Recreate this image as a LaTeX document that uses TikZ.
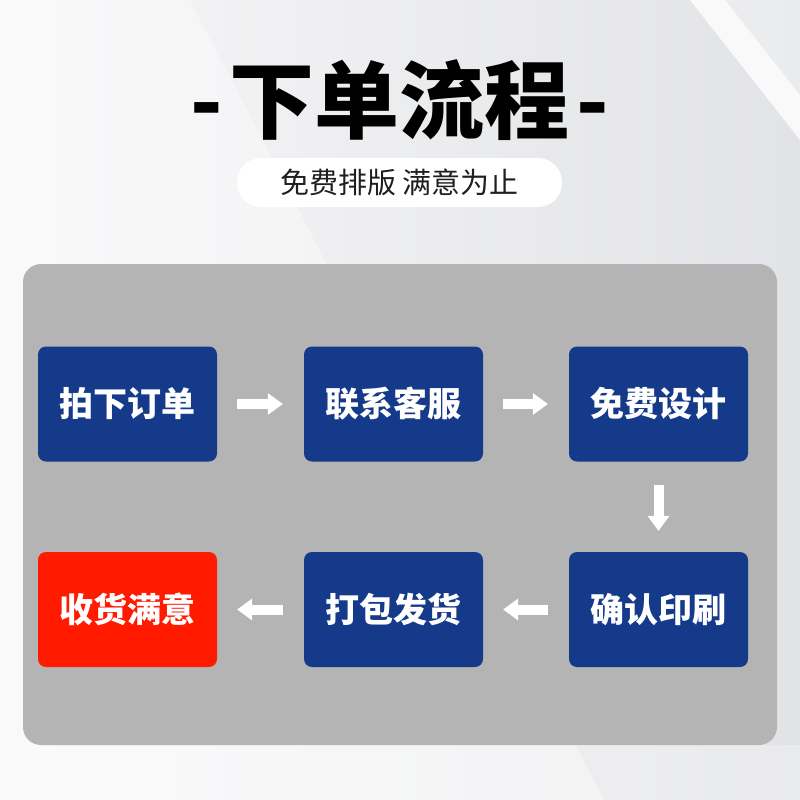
\documentclass[tikz,border=0pt]{standalone}
\usepackage{fontspec}
\newfontfamily\cjk{Noto Sans CJK SC}
\usetikzlibrary{arrows.meta}
\definecolor{boxblue}{RGB}{22,58,138}
\definecolor{boxred}{RGB}{255,26,0}
\definecolor{panelgray}{RGB}{180,180,180}
\definecolor{bgright}{RGB}{226,227,230}
\definecolor{bgleft}{RGB}{247,247,248}
\tikzset{
  stepbox/.style={fill=boxblue, rounded corners=8pt, minimum width=179pt, minimum height=115pt,
    inner sep=0pt, text=white, font=\cjk\bfseries\fontsize{34}{40}\selectfont},
  donebox/.style={stepbox, fill=boxred},
  flowarrow/.style={draw=white, line width=10pt,
    -{Triangle[length=15pt,width=22pt,line width=0pt]}}
}
\begin{document}
\begin{tikzpicture}[x=1pt,y=-1pt]
\useasboundingbox (0,0) rectangle (800,800);
% background
\shade[left color=bgleft, right color=bgright] (0,0) rectangle (800,800);
\fill[white, opacity=0.35] (0,0) -- (190,0) -- (604,800) -- (0,800) -- cycle;
\fill[white, opacity=0.25] (0,745) rectangle (800,800);
\fill[white, opacity=0.8] (690,0) -- (725,0) -- (800,95) -- (800,140) -- cycle;
\fill[white, opacity=0.3] (725,0) -- (800,0) -- (800,95) -- cycle;
% title
\node (title) at (400,100) {\cjk\bfseries\fontsize{85}{90}\selectfont -\kern7pt下单流程\kern7pt-};
\node[fill=white, rounded corners=24pt, minimum width=325pt, minimum height=49pt, inner sep=0pt,
  text=black!88, font=\cjk\fontsize{29}{32}\selectfont] (sub) at (399.5,182.5) {免费排版 满意为止};
% panel
\fill[panelgray, rounded corners=18pt] (23,264) rectangle (777,745);
% steps
\node[stepbox] (s1) at (127.5,404) {拍下订单};
\node[stepbox] (s2) at (393.5,404) {联系客服};
\node[stepbox] (s3) at (658.5,404) {免费设计};
\node[stepbox] (s4) at (658.5,609.5) {确认印刷};
\node[stepbox] (s5) at (393.5,609.5) {打包发货};
\node[donebox] (s6) at (127.5,609.5) {收货满意};
% arrows
\draw[flowarrow] ([xshift=20pt]s1.east) -- ([xshift=-21pt]s2.west);
\draw[flowarrow] ([xshift=20pt]s2.east) -- ([xshift=-21pt]s3.west);
\draw[flowarrow] ([yshift=-23pt]s3.south) -- ([yshift=21pt]s4.north);
\draw[flowarrow] ([xshift=-21pt]s4.west) -- ([xshift=20pt]s5.east);
\draw[flowarrow] ([xshift=-21pt]s5.west) -- ([xshift=20pt]s6.east);
\end{tikzpicture}
\end{document}
